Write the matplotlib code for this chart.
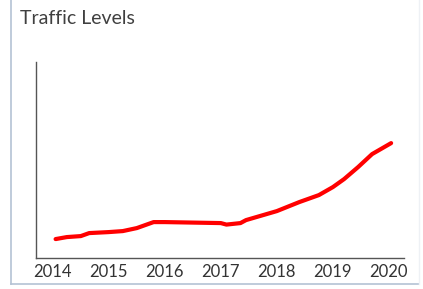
import matplotlib.pyplot as plt
from matplotlib.lines import Line2D

# Traffic level (arbitrary units)
years = [2014.05, 2014.25, 2014.5, 2014.65, 2015.0, 2015.25, 2015.5, 2015.8,
         2016.0, 2016.5, 2017.0, 2017.1, 2017.35, 2017.45, 2018.0, 2018.4,
         2018.75, 2019.0, 2019.2, 2019.45, 2019.7, 2020.04]
traffic = [19, 21, 22, 25, 26, 27, 30, 36,
           36, 35.5, 35, 33.5, 35, 38, 47, 56,
           63, 71, 79, 91, 104, 115]
tick_years = [2014, 2015, 2016, 2017, 2018, 2019, 2020]

fig = plt.figure(figsize=(4.23, 2.89), dpi=100)
ax = fig.add_axes([0.0851, 0.107, 0.870, 0.678])

ax.plot(years, traffic, color='#ff0000', linewidth=3, solid_capstyle='round',
        solid_joinstyle='round')

ax.set_xlim(2013.70, 2020.27)
ax.set_ylim(0, 196)
ax.set_xticks(tick_years)
ax.set_xticklabels([str(y) for y in tick_years], fontsize=12, color='#333333',
                   family='Lato')
ax.set_yticks([])
ax.tick_params(axis='x', length=0, pad=4)
for side in ['top', 'right']:
    ax.spines[side].set_visible(False)
for side in ['left', 'bottom']:
    ax.spines[side].set_color('#555555')
    ax.spines[side].set_linewidth(1.0)

fig.text(20 / 423, 1 - 19 / 289, 'Traffic Levels', fontsize=14, color='#404040',
         family='Lato', va='center', ha='left')

# light frame around the slide
x0, x1, yb = 10.5 / 423, 419 / 423, 1 - 284 / 289
fig.add_artist(Line2D([x0, x0], [yb, 1], color='#b4c2d4', linewidth=1.2))
fig.add_artist(Line2D([x0, x1], [yb, yb], color='#b4c2d4', linewidth=1.2))
fig.add_artist(Line2D([x1, x1], [yb, 1], color='#eef1f5', linewidth=1.0))

fig.savefig('out.png', dpi=100)
plt.close(fig)
